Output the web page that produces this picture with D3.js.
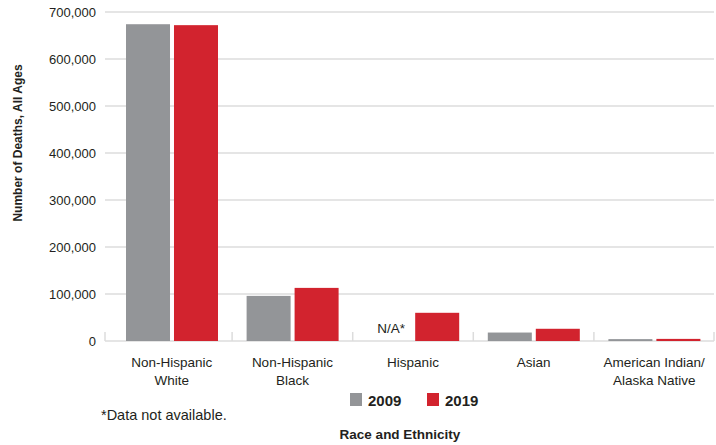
<!DOCTYPE html>
<html>
<head>
<meta charset="utf-8">
<script src="https://cdn.jsdelivr.net/npm/d3@7"></script>
<style>
  body { margin: 0; background: #fff; }
  svg { display: block; font-family: 'Liberation Sans', Arial, sans-serif; }
</style>
</head>
<body>
<svg id="chart" width="716" height="445"></svg>
<script>
const categories = ['Non-Hispanic White', 'Non-Hispanic Black', 'Hispanic', 'Asian', 'American Indian/Alaska Native']
const categoryLines = [['Non-Hispanic', 'White'], ['Non-Hispanic', 'Black'], ['Hispanic'], ['Asian'], ['American Indian/', 'Alaska Native']]
const years = ['2009', '2019']
const deaths2009 = [674000, 96000, null, 18000, 4000]
const deaths2019 = [672000, 113000, 60000, 26000, 4500]
const yTicks = [0, 100000, 200000, 300000, 400000, 500000, 600000, 700000]

const COLORS = { '2009': '#939598', '2019': '#d2232e' }
const GRID = '#dcdcdc'
const INK = '#231f20'

const svg = d3.select('#chart')

const x = d3.scaleBand().domain(categories).range([111.5, 714.5])
const xYear = d3.scaleBand().domain(years).range([14.5, 106.5]).paddingInner(0.083)
const y = d3.scaleLinear().domain([0, 700000]).range([341, 12])

// gridlines
svg.append('g')
    .selectAll('line').data(yTicks).enter()
    .append('line')
    .attr('x1', 105).attr('x2', 714)
    .attr('y1', d => y(d)).attr('y2', d => y(d))
    .attr('stroke', GRID).attr('stroke-width', 1.5)

// y tick labels
svg.append('g')
    .selectAll('text').data(yTicks).enter()
    .append('text')
    .attr('x', 96).attr('y', d => y(d) + 4.5)
    .attr('text-anchor', 'end')
    .attr('font-size', 13).attr('fill', INK)
    .text(d3.format(','))

// category separators (small ticks above the baseline)
const seps = categories.slice(1).map(c => x(c))
svg.append('g')
    .selectAll('line').data([105, ...seps, 714]).enter()
    .append('line')
    .attr('x1', d => d).attr('x2', d => d)
    .attr('y1', y(0) - 9).attr('y2', y(0))
    .attr('stroke', GRID).attr('stroke-width', 1.5)

// bars
const series = [
    { year: '2009', values: deaths2009 },
    { year: '2019', values: deaths2019 }
]
series.forEach(s => {
    const data = categories.map((c, i) => ({ c, v: s.values[i] })).filter(d => d.v != null)
    svg.append('g')
        .selectAll('rect').data(data).enter()
        .append('rect')
        .attr('x', d => x(d.c) + xYear(s.year))
        .attr('width', xYear.bandwidth())
        .attr('y', d => y(d.v))
        .attr('height', d => y(0) - y(d.v))
        .attr('fill', COLORS[s.year])
})

// N/A marker for missing values
categories.forEach((c, i) => {
    if (deaths2009[i] == null) {
        svg.append('text')
            .attr('x', x(c) + xYear('2009') + xYear.bandwidth() / 2 + 2)
            .attr('y', 333)
            .attr('text-anchor', 'middle')
            .attr('font-size', 13.5).attr('fill', INK)
            .text('N/A*')
    }
})

// category labels
const catG = svg.append('g')
categories.forEach((c, i) => {
    const cx = x(c) + x.bandwidth() / 2
    const t = catG.append('text')
        .attr('x', cx)
        .attr('y', 367)
        .attr('text-anchor', 'middle')
        .attr('font-size', 13.5).attr('fill', INK)
    categoryLines[i].forEach((line, j) => {
        t.append('tspan').attr('x', cx).attr('dy', j === 0 ? 0 : 18).text(line)
    })
})

// y axis title
svg.append('text')
    .attr('transform', 'translate(22,143) rotate(-90)')
    .attr('text-anchor', 'middle')
    .attr('font-size', 12).attr('font-weight', 'bold').attr('fill', INK)
    .text('Number of Deaths, All Ages')

// legend
const legendX = { '2009': 350, '2019': 427 }
years.forEach(yr => {
    svg.append('rect')
        .attr('x', legendX[yr]).attr('y', 393)
        .attr('width', 12).attr('height', 13)
        .attr('fill', COLORS[yr])
    svg.append('text')
        .attr('x', legendX[yr] + 18).attr('y', 406)
        .attr('font-size', 15).attr('font-weight', 'bold').attr('fill', INK)
        .text(yr)
})

// footnote
svg.append('text')
    .attr('x', 101).attr('y', 420)
    .attr('font-size', 14.5).attr('fill', INK)
    .text('*Data not available.')

// x axis title
svg.append('text')
    .attr('x', 400).attr('y', 439)
    .attr('text-anchor', 'middle')
    .attr('font-size', 13.5).attr('font-weight', 'bold').attr('fill', INK)
    .text('Race and Ethnicity')
</script>
</body>
</html>
